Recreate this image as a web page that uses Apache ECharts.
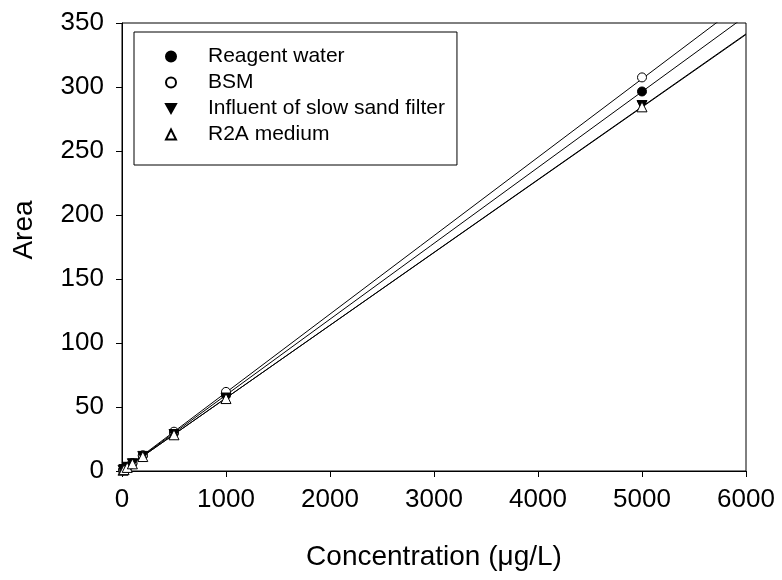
<!DOCTYPE html>
<html>
<head>
<meta charset="utf-8">
<script src="https://cdn.jsdelivr.net/npm/echarts@6/dist/echarts.min.js"></script>
<style>html,body{margin:0;padding:0;background:#fff}#c{width:782px;height:580px}</style>
</head>
<body>
<div id="c"></div>
<script>
const concentrations = [10, 20, 50, 100, 200, 500, 1000, 5000];
const reagentWater = [0.6, 1.2, 3.0, 5.9, 11.8, 29.6, 59.2, 296.5];
const bsm = [0.6, 1.2, 3.1, 6.1, 12.3, 30.7, 61.8, 307.5];
const influent = [0.6, 1.1, 2.9, 5.7, 11.4, 28.5, 57.0, 285.5];
const r2a = [0.6, 1.1, 2.8, 5.6, 11.3, 28.3, 56.6, 284.5];
const seriesNames = ['Reagent water', 'BSM', 'Influent of slow sand filter', 'R2A medium'];
// regression lines
const fitSlopes = [0.05925, 0.06125, 0.0569, 0.0568];
const fitIntercepts = [0.1, 0.1, 0.1, 0.2];
const xTicks = [0, 1000, 2000, 3000, 4000, 5000, 6000];
const yTicks = [0, 50, 100, 150, 200, 250, 300, 350];

const FONT = '"Liberation Sans", Arial, sans-serif';
const allValues = [reagentWater, bsm, influent, r2a];
const xMin = xTicks[0], xMax = xTicks[xTicks.length - 1];

const symbols = ['circle', 'circle', 'path://M0,0 L10,0 L5,9 Z', 'triangle'];
const fills = ['#000', '#fff', '#000', '#fff'];

const series = [];
seriesNames.forEach((name, i) => {
  series.push({
    type: 'line',
    data: [[xMin, fitIntercepts[i]], [xMax, fitSlopes[i] * xMax + fitIntercepts[i]]],
    showSymbol: false,
    symbol: 'none',
    lineStyle: { color: '#000', width: 1 },
    silent: true,
    z: 1,
    clip: true
  });
});
seriesNames.forEach((name, i) => {
  series.push({
    name: name,
    type: 'scatter',
    data: concentrations.map((c, k) => [c, allValues[i][k]]),
    symbol: symbols[i],
    symbolSize: i >= 2 ? 10 : 9,
    itemStyle: { color: fills[i], borderColor: '#000', borderWidth: 1, opacity: 1 },
    z: 3 + i
  });
});

const chart = echarts.init(document.getElementById('c'), null, { renderer: 'canvas' });
chart.setOption({
  animation: false,
  backgroundColor: '#fff',
  textStyle: { fontFamily: FONT },
  grid: { left: 122, right: 36, top: 23, bottom: 109, show: true, borderColor: '#000', borderWidth: 1, containLabel: false },
  legend: {
    data: seriesNames,
    orient: 'vertical',
    left: 134,
    top: 32,
    padding: [14, 12, 20, 31],
    itemGap: 5,
    itemWidth: 10,
    itemHeight: 10,
    borderColor: '#000',
    borderWidth: 1,
    backgroundColor: '#fff',
    textStyle: { fontSize: 21, lineHeight: 20, color: '#000', fontFamily: FONT, padding: [0, 0, 0, 27] }
  },
  xAxis: {
    type: 'value',
    min: xMin, max: xMax, interval: 1000,
    name: 'Concentration (μg/L)',
    nameLocation: 'middle',
    nameGap: 72,
    nameTextStyle: { fontSize: 28, color: '#000', fontFamily: FONT },
    axisLine: { show: true, onZero: false, lineStyle: { color: '#000', width: 1 } },
    axisTick: { show: true, inside: false, length: 6, lineStyle: { color: '#000' } },
    axisLabel: { fontSize: 26, color: '#000', margin: 16, fontFamily: FONT, formatter: v => String(v) },
    splitLine: { show: false }
  },
  yAxis: {
    type: 'value',
    min: yTicks[0], max: yTicks[yTicks.length - 1], interval: 50,
    name: 'Area',
    nameLocation: 'middle',
    nameGap: 84,
    nameTextStyle: { fontSize: 28, color: '#000', fontFamily: FONT, padding: [0, 0, 0, 34] },
    axisLine: { show: true, onZero: false, lineStyle: { color: '#000', width: 1 } },
    axisTick: { show: true, inside: false, length: 6, lineStyle: { color: '#000' } },
    axisLabel: { fontSize: 26, color: '#000', margin: 18, fontFamily: FONT, formatter: v => String(v) },
    splitLine: { show: false }
  },
  series: series
});
</script>
</body>
</html>
